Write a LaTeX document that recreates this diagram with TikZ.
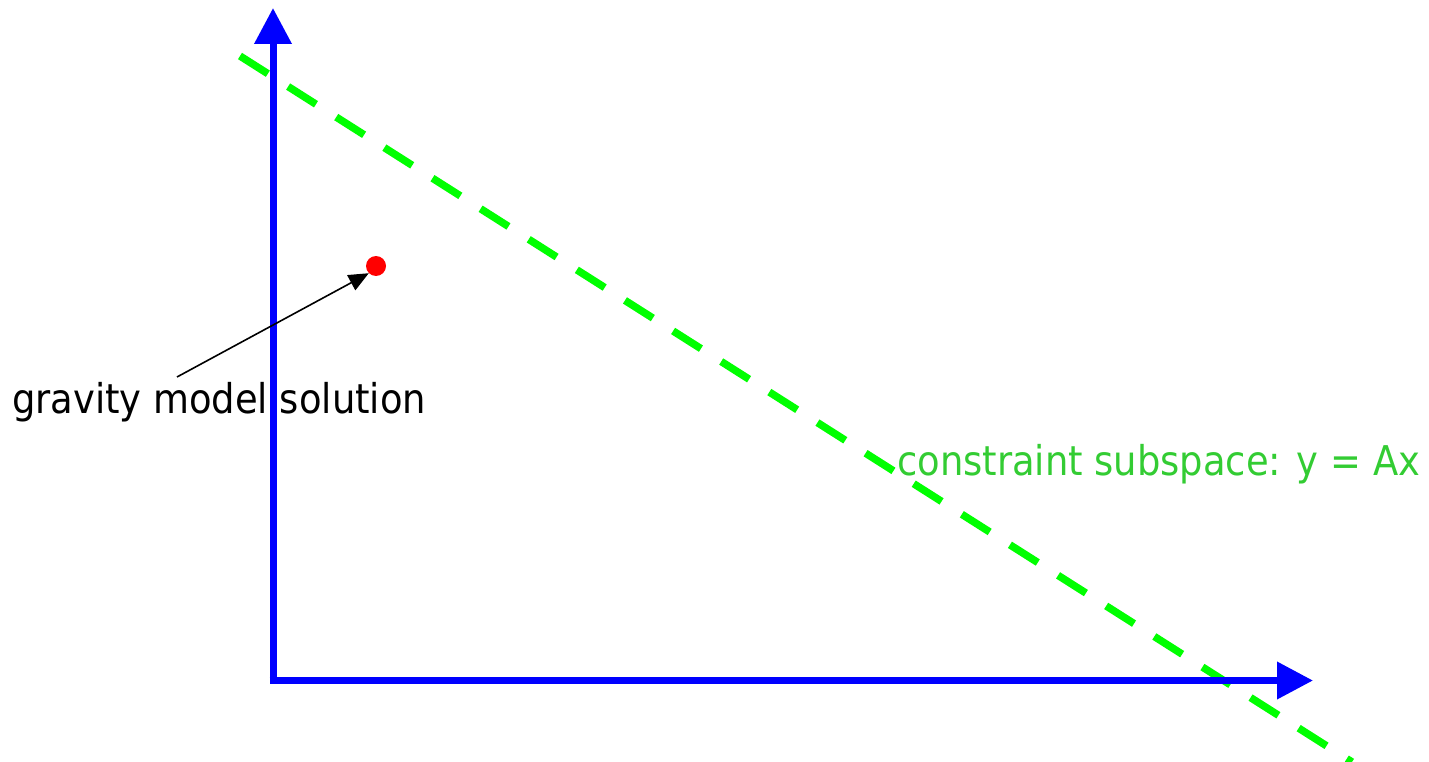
\documentclass[tikz,border=0pt]{standalone}
\usepackage{fontspec}
\setmainfont{DejaVu Sans Condensed}
\usetikzlibrary{arrows.meta}
\definecolor{axisblue}{HTML}{0000FF}
\definecolor{dashgreen}{HTML}{00FF00}
\definecolor{labelgreen}{HTML}{33CC33}
\tikzset{
  axis/.style={draw=axisblue, line width=7pt, -{Triangle[length=36pt,width=36pt]}},
  constraint/.style={draw=dashgreen, line width=7.5pt, dash pattern=on 33pt off 24pt},
  pointer/.style={draw=black, line width=1.6pt, -{Triangle[length=20pt,width=17pt]}},
}
\begin{document}
\begin{tikzpicture}[x=1pt,y=-1pt]
\useasboundingbox (0,0) rectangle (1429,762);
\coordinate (origin) at (273,680.5);
\coordinate (ytip) at (273,8);
\coordinate (xtip) at (1313,680.5);
\coordinate (cstart) at (240,56);
\coordinate (cend) at (1352,762);
\draw[constraint] (cstart) -- (cend);
\draw[axis] ([yshift=3.5pt]origin) -- (ytip);
\draw[axis] ([xshift=-3.5pt]origin) -- (xtip);
\node[circle, fill=red, inner sep=0pt, minimum size=20pt] (sol) at (376,266) {};
\node[anchor=base west, inner sep=0pt, font=\fontsize{41}{48}\selectfont] (gtext) at (12,413) {gravity model solution};
\coordinate (pstart) at (177,377);
\draw[pointer] (pstart) -- (sol.south west);
\node[anchor=base west, inner sep=0pt, text=labelgreen, font=\fontsize{41}{48}\selectfont] (ctext) at (897,475) {constraint subspace: y = Ax};
\end{tikzpicture}
\end{document}
